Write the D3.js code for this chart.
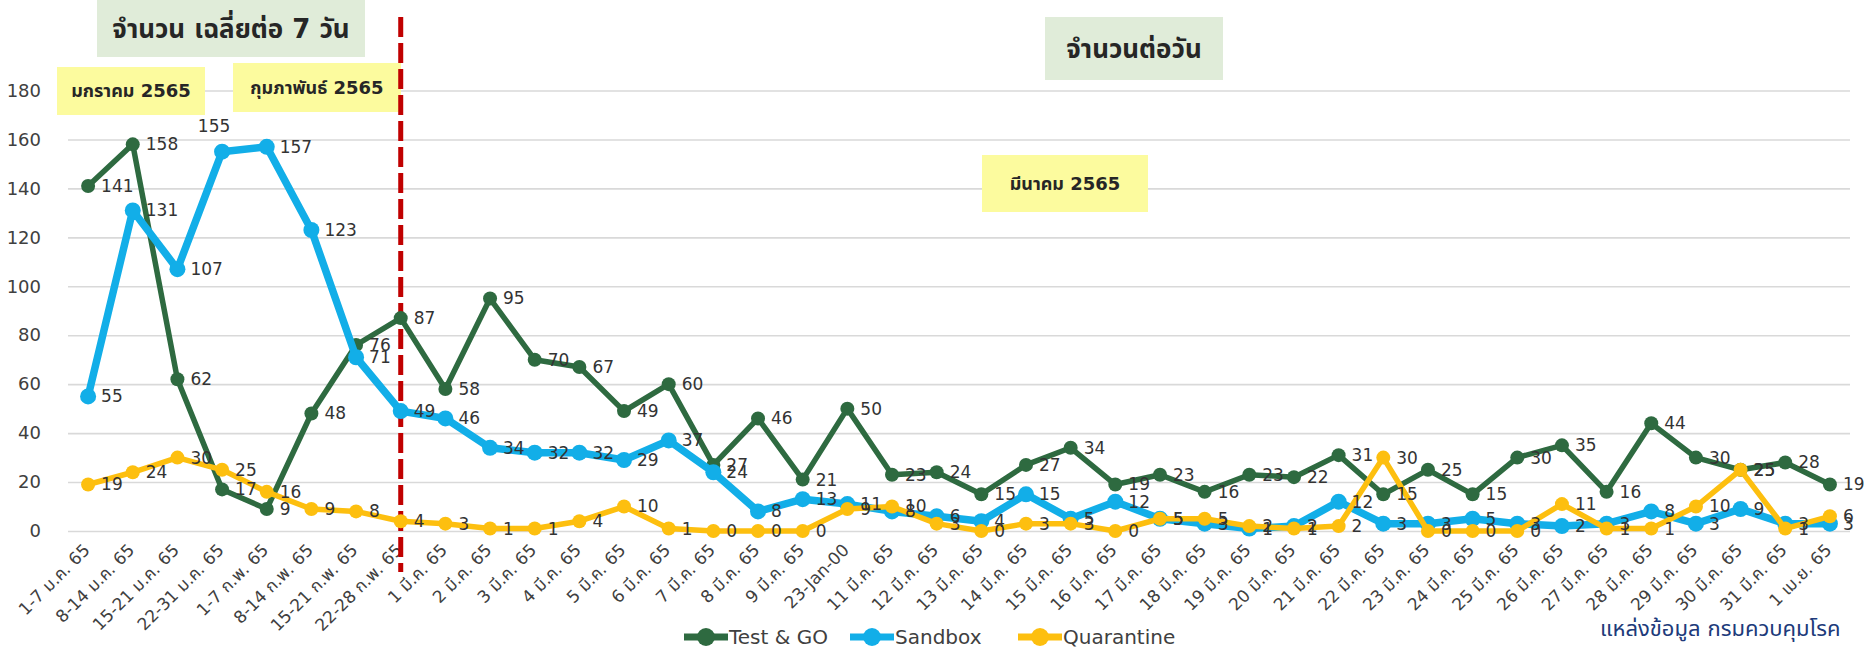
<!DOCTYPE html>
<html>
<head>
<meta charset="utf-8">
<script src="https://cdn.jsdelivr.net/npm/d3@7"></script>
<style>
  body { margin: 0; background: #fff; }
  svg text { font-family: Tahoma, "DejaVu Sans", "Noto Sans Thai", sans-serif; }
</style>
</head>
<body>
<svg></svg>
<script>
const w = 1865
const h = 654

// categories (x axis)
const categories = [
  '1-7 ม.ค. 65', '8-14 ม.ค. 65', '15-21 ม.ค. 65', '22-31 ม.ค. 65',
  '1-7 ก.พ. 65', '8-14 ก.พ. 65', '15-21 ก.พ. 65', '22-28 ก.พ. 65',
  '1 มี.ค. 65', '2 มี.ค. 65', '3 มี.ค. 65', '4 มี.ค. 65', '5 มี.ค. 65',
  '6 มี.ค. 65', '7 มี.ค. 65', '8 มี.ค. 65', '9 มี.ค. 65', '23-Jan-00',
  '11 มี.ค. 65', '12 มี.ค. 65', '13 มี.ค. 65', '14 มี.ค. 65', '15 มี.ค. 65',
  '16 มี.ค. 65', '17 มี.ค. 65', '18 มี.ค. 65', '19 มี.ค. 65', '20 มี.ค. 65',
  '21 มี.ค. 65', '22 มี.ค. 65', '23 มี.ค. 65', '24 มี.ค. 65', '25 มี.ค. 65',
  '26 มี.ค. 65', '27 มี.ค. 65', '28 มี.ค. 65', '29 มี.ค. 65', '30 มี.ค. 65',
  '31 มี.ค. 65', '1 เม.ย. 65'
];

// series values
const testGo = [141, 158, 62, 17, 9, 48, 76, 87, 58, 95, 70, 67, 49, 60, 27, 46, 21, 50,
  23, 24, 15, 27, 34, 19, 23, 16, 23, 22, 31, 15, 25, 15, 30, 35, 16, 44, 30, 25, 28, 19];
const sandbox = [55, 131, 107, 155, 157, 123, 71, 49, 46, 34, 32, 32, 29, 37, 24, 8, 13, 11,
  8, 6, 4, 15, 5, 12, 5, 3, 1, 2, 12, 3, 3, 5, 3, 2, 3, 8, 3, 9, 3, 3];
const quarantine = [19, 24, 30, 25, 16, 9, 8, 4, 3, 1, 1, 4, 10, 1, 0, 0, 0, 9,
  10, 3, 0, 3, 3, 0, 5, 5, 2, 1, 2, 30, 0, 0, 0, 11, 1, 1, 10, 25, 1, 6];

const yTicks = [0, 20, 40, 60, 80, 100, 120, 140, 160, 180];

const seriesNames = ['Test & GO', 'Sandbox', 'Quarantine'];
const seriesColors = ['#2e6a40', '#12aee8', '#fdbf0f'];

const series = [
  {name: seriesNames[0], values: testGo, color: seriesColors[0], width: 5.5, r: 7},
  {name: seriesNames[1], values: sandbox, color: seriesColors[1], width: 7.5, r: 8},
  {name: seriesNames[2], values: quarantine, color: seriesColors[2], width: 5.5, r: 7}
];

const svg = d3.select('svg')
  .attr('width', w)
  .attr('height', h);

const plot = {left: 68, right: 1850, top: 90.5, bottom: 531};

const xScale = d3.scalePoint()
  .domain(categories)
  .range([plot.left, plot.right])
  .padding(0.45);

const yScale = d3.scaleLinear()
  .domain([0, 180])
  .range([plot.bottom, plot.top]);

// grid + y labels
const yAxisG = svg.append('g')
  .attr('transform', `translate(${plot.left},0)`)
  .call(d3.axisLeft(yScale).tickValues(yTicks).tickSize(-(plot.right - plot.left)).tickPadding(27));
yAxisG.select('.domain').remove();
yAxisG.selectAll('line').attr('stroke', '#d9d9d9').attr('stroke-width', 1.6);
yAxisG.selectAll('text')
  .attr('font-size', 18)
  .attr('fill', '#404040');

// x labels, rotated 45deg and ending under each point
const xAxisG = svg.append('g')
  .attr('transform', `translate(0,${plot.bottom})`)
  .call(d3.axisBottom(xScale).tickSize(0));
xAxisG.select('.domain').remove();
xAxisG.selectAll('text')
  .attr('x', 0)
  .attr('y', 0)
  .attr('dy', '0.35em')
  .attr('text-anchor', 'end')
  .attr('transform', 'translate(-2,16) rotate(-45)')
  .attr('font-size', 17)
  .attr('fill', '#404040');

// header boxes
const boxes = [
  {text: 'จำนวน เฉลี่ยต่อ 7 วัน', x: 97, y: 0, bw: 268, bh: 57, fill: '#e0ecd9', size: 26},
  {text: 'จำนวนต่อวัน', x: 1045, y: 17, bw: 178, bh: 63, fill: '#e0ecd9', size: 26},
  {text: 'มกราคม 2565', x: 57, y: 67, bw: 148, bh: 48, fill: '#fcfb9e', size: 18},
  {text: 'กุมภาพันธ์ 2565', x: 233, y: 63, bw: 168, bh: 49, fill: '#fcfb9e', size: 18},
  {text: 'มีนาคม 2565', x: 982, y: 155, bw: 166, bh: 57, fill: '#fcfb9e', size: 18}
];
const boxG = svg.append('g');
boxes.forEach(b => {
  boxG.append('rect')
    .attr('x', b.x).attr('y', b.y)
    .attr('width', b.bw).attr('height', b.bh)
    .attr('fill', b.fill);
  boxG.append('text')
    .attr('x', b.x + b.bw / 2).attr('y', b.y + b.bh / 2)
    .attr('dy', '0.35em')
    .attr('text-anchor', 'middle')
    .attr('font-size', b.size)
    .attr('font-weight', 'bold')
    .attr('fill', '#262626')
    .text(b.text);
});

// divider between weekly and daily
const splitX = xScale(categories[7]);
svg.append('line')
  .attr('x1', splitX).attr('x2', splitX)
  .attr('y1', 17).attr('y2', 572)
  .attr('stroke', '#c00000')
  .attr('stroke-width', 5)
  .attr('stroke-dasharray', '20 6');

const line = d3.line()
  .x((d, i) => xScale(categories[i]))
  .y(d => yScale(d));

series.forEach(s => {
  const g = svg.append('g');
  g.append('path')
    .datum(s.values)
    .attr('d', line)
    .attr('fill', 'none')
    .attr('stroke', s.color)
    .attr('stroke-width', s.width)
    .attr('stroke-linejoin', 'round');
  g.selectAll('circle').data(s.values)
    .enter().append('circle')
    .attr('cx', (d, i) => xScale(categories[i]))
    .attr('cy', d => yScale(d))
    .attr('r', s.r)
    .attr('fill', s.color);
});

// data labels (right of point; the 155 one sits above)
const isAbove = (s, i) => s.name === 'Sandbox' && i === 3;
series.forEach(s => {
  svg.append('g').selectAll('text').data(s.values)
    .enter().append('text')
    .attr('x', (d, i) => isAbove(s, i) ? xScale(categories[i]) - 8 : xScale(categories[i]) + 13)
    .attr('y', (d, i) => isAbove(s, i) ? yScale(d) - 26 : yScale(d))
    .attr('dy', '0.35em')
    .attr('text-anchor', (d, i) => isAbove(s, i) ? 'middle' : 'start')
    .attr('font-size', 17)
    .attr('fill', '#333')
    .text(d => d);
});

// legend
const legendX = [684, 850, 1018];
const legend = svg.append('g').attr('transform', 'translate(0,637)');
series.forEach((s, i) => {
  const lg = legend.append('g').attr('transform', `translate(${legendX[i]},0)`);
  lg.append('line').attr('x1', 0).attr('x2', 44)
    .attr('stroke', s.color).attr('stroke-width', 7);
  lg.append('circle').attr('cx', 22).attr('r', 9).attr('fill', s.color);
  lg.append('text').attr('x', 45).attr('dy', '0.35em')
    .attr('font-size', 20).attr('fill', '#404040')
    .text(s.name);
});

// source note
svg.append('text')
  .attr('x', 1600).attr('y', 628)
  .attr('dy', '0.35em')
  .attr('font-size', 22)
  .attr('fill', '#203a7a')
  .text('แหล่งข้อมูล กรมควบคุมโรค');
</script>
</body>
</html>
